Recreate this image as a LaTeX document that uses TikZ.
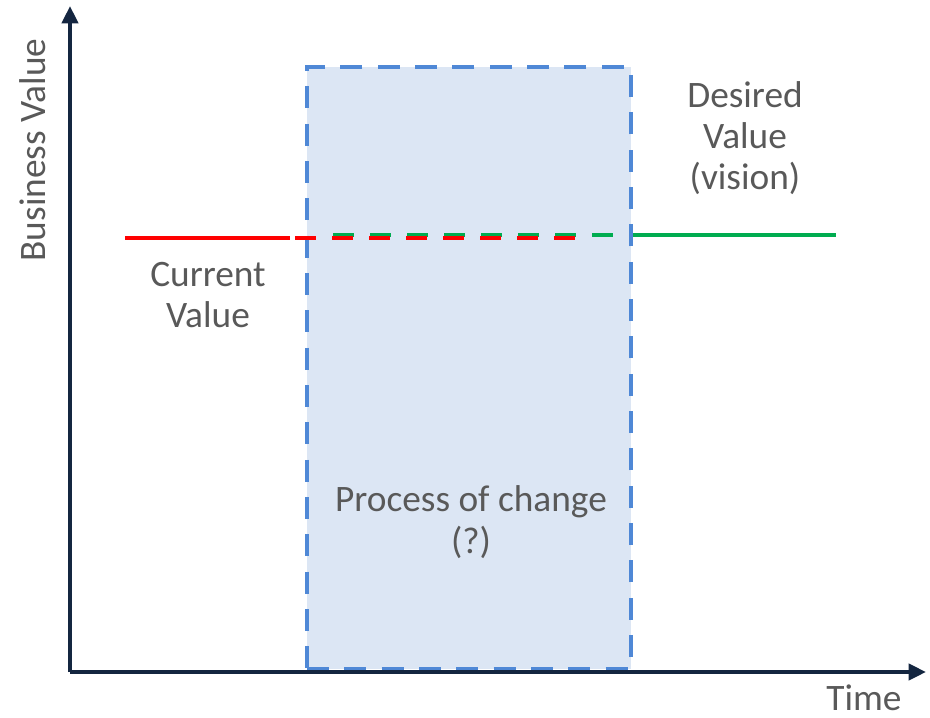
\documentclass[tikz,border=0pt]{standalone}
\usepackage{fontspec}
\setmainfont{Carlito}
\usetikzlibrary{arrows.meta,positioning}
\definecolor{axisink}{HTML}{142640}
\definecolor{labelgray}{HTML}{595959}
\definecolor{changeblue}{HTML}{4F88D6}
\definecolor{changefill}{HTML}{DCE6F4}
\definecolor{nowred}{HTML}{FF0000}
\definecolor{visiongreen}{HTML}{00AC50}
\tikzset{x=.75pt,y=-.75pt,
  axis/.style={draw=axisink,line width=3pt,-{Triangle[length=13pt,width=12pt]}},
  changebox/.style={draw=changeblue,fill=changefill,line width=3.5pt,
    dash pattern=on 16.5pt off 11.5pt,inner sep=0pt},
  valueline/.style={line width=3.2pt},
  planned/.style={valueline,dash pattern=on 15.75pt off 12pt},
  caption/.style={text=labelgray,align=center,font=\fontsize{28}{31}\selectfont}}
\begin{document}
\begin{tikzpicture}
\path[use as bounding box] (0,0) rectangle (930,717);
% the change period
\node[changebox,minimum width=243pt,minimum height=451.5pt] (change) at (469,368) {};
\node[caption] (changelbl) at (471,522) {Process of change\\(?)};
% axes
\coordinate (origin) at (70,672);\coordinate (ytop) at (70,6);\coordinate (xend) at (926,672);
\draw[axis] (origin)--(ytop);\draw[axis] (origin)--(xend);
\node[caption,rotate=90] (ylbl) at (33,150) {Business Value};
\node[caption,anchor=base,inner sep=0pt] (xlbl) at (864,710) {Time};
% current and desired value
\coordinate (cur0) at (125,238);\coordinate (cur1) at (290,238);
\coordinate (cur2) at (295,238);\coordinate (cur3) at (578,238);
\coordinate (des0) at (333,235);\coordinate (des1) at (616,235);
\coordinate (des2) at (633,235);\coordinate (des3) at (836,235);
\draw[planned,visiongreen] (des0)--(des1);\draw[valueline,visiongreen] (des2)--(des3);
\draw[valueline,nowred] (cur0)--(cur1);\draw[planned,nowred] (cur2)--(cur3);
\node[caption] (curlbl) at (208,295) {Current\\Value};
\node[caption] (deslbl) at (745,138) {Desired\\Value\\(vision)};
\end{tikzpicture}
\end{document}
